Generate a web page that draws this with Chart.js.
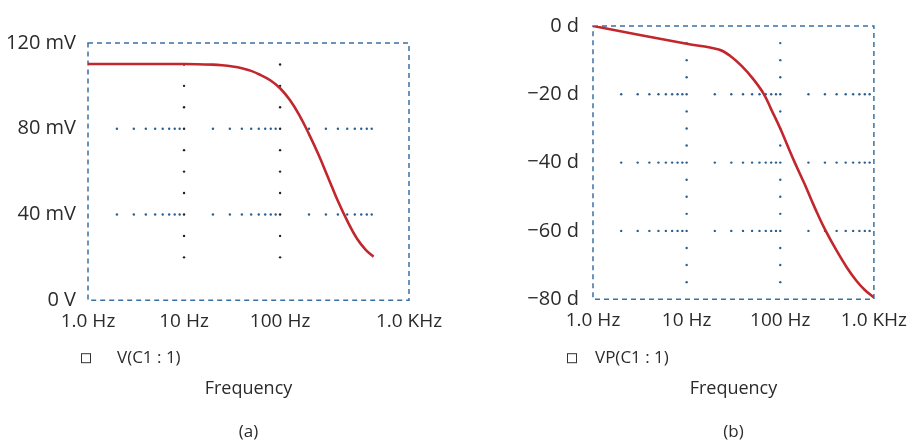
<!DOCTYPE html>
<html>
<head>
<meta charset="utf-8">
<script src="https://cdn.jsdelivr.net/npm/chart.js@4.4.1/dist/chart.umd.min.js"></script>
<style>
  html, body { margin: 0; padding: 0; background: #fff; overflow: hidden; }
  #wrap { position: relative; width: 917px; height: 444px; }
  canvas { position: absolute; top: 0; }
  #chartA { left: 0; }
  #chartB { left: 458px; }
</style>
</head>
<body>
<div id="wrap">
  <canvas id="chartA" width="458" height="444"></canvas>
  <canvas id="chartB" width="459" height="444"></canvas>
</div>
<script>
// (a) V(C1:1) magnitude vs frequency
var freqA = [1, 10, 20, 25, 32, 40, 50, 63, 79, 100, 126, 158, 200, 251, 316, 398, 501, 631, 780, 940];
var voltsA = [110.2, 110.2, 109.9, 109.6, 109, 108.2, 107, 105, 102.6, 98.9, 93.5, 86.5, 77.5, 68, 57.3, 46.5, 37, 28.8, 23.5, 20.3];
var xTicksA = [1, 10, 100, 2200];
var xLabelsA = ['1.0 Hz', '10 Hz', '100 Hz', '1.0 KHz'];
var yTicksA = [0, 40, 80, 120];
var yLabelsA = ['0 V', '40 mV', '80 mV', '120 mV'];

// (b) VP(C1:1) phase vs frequency
var freqB = [1, 10, 22, 29, 40, 51, 67, 80, 100, 125, 143, 180, 214, 250, 306, 400, 514, 650, 800, 1000];
var phaseB = [0, -5.2, -6.9, -8.7, -12.1, -15.4, -20, -24.4, -30, -36.3, -40, -46, -50.8, -55, -60, -65.8, -70.7, -74.6, -77.3, -79.5];
var xTicksB = [1, 10, 100, 1000];
var xLabelsB = ['1.0 Hz', '10 Hz', '100 Hz', '1.0 KHz'];
var yTicksB = [-80, -60, -40, -20, 0];
var yLabelsB = ['\u221280 d', '\u221260 d', '\u221240 d', '\u221220 d', '0 d'];

Chart.defaults.font.family = "'Open Sans', sans-serif";
Chart.defaults.color = '#2b2b2b';

function dot(ctx, x, y) {
    ctx.beginPath();
    ctx.arc(x, y, 1.2, 0, Math.PI * 2);
    ctx.fill();
}

// dotted grid + dashed frame, drawn under the curve
var gridDots = {
    id: 'gridDots',
    beforeDatasetsDraw: function (chart, args, opts) {
        var ctx = chart.ctx;
        var a = chart.chartArea;
        var xs = chart.scales.x;
        var ys = chart.scales.y;
        ctx.save();
        ctx.fillStyle = opts.rowColor;
        opts.rows.forEach(function (v) {
            var py = ys.getPixelForValue(v);
            opts.decades.forEach(function (d) {
                for (var m = 2; m <= 9; m++) {
                    dot(ctx, xs.getPixelForValue(m * d), py);
                }
            });
        });
        ctx.fillStyle = opts.colColor;
        opts.cols.forEach(function (f) {
            var px = xs.getPixelForValue(f);
            for (var v = opts.colFrom; v <= opts.colTo + 0.001; v += opts.colStep) {
                dot(ctx, px, ys.getPixelForValue(v));
            }
        });
        ctx.setLineDash([5, 4]);
        ctx.strokeStyle = opts.frameColor;
        ctx.lineWidth = 1.5;
        ctx.strokeRect(a.left, a.top, a.right - a.left, a.bottom - a.top);
        ctx.restore();
    }
};

// little probe legend under the tick labels
var probeLegend = {
    id: 'probeLegend',
    afterDraw: function (chart, args, opts) {
        var ctx = chart.ctx;
        var a = chart.chartArea;
        var y = a.bottom + opts.dy;
        ctx.save();
        ctx.strokeStyle = '#333';
        ctx.lineWidth = 1;
        ctx.strokeRect(a.left + opts.boxX + 0.5, y - 4.5, 9, 9);
        ctx.fillStyle = '#2b2b2b';
        ctx.font = "17px 'Open Sans', sans-serif";
        ctx.textBaseline = 'middle';
        ctx.fillText(chart.data.datasets[0].label, a.left + opts.textX, y);
        ctx.restore();
    }
};

function makeChart(id, cfg) {
    return new Chart(document.getElementById(id), {
        type: 'line',
        data: {
            datasets: [{
                label: cfg.label,
                data: cfg.freq.map(function (f, i) { return { x: f, y: cfg.values[i] }; }),
                borderColor: '#c1272d',
                borderWidth: 2.6,
                pointRadius: 0,
                tension: 0.4,
                fill: false
            }]
        },
        plugins: [gridDots, probeLegend],
        options: {
            responsive: false,
            animation: false,
            layout: { padding: { left: 0, right: cfg.padRight, top: cfg.top, bottom: 0 } },
            plugins: {
                legend: { display: false },
                tooltip: { enabled: false },
                title: {
                    display: true,
                    fullSize: false,
                    text: cfg.caption,
                    position: 'bottom',
                    font: { size: 17, weight: 'normal' },
                    padding: { top: 0, bottom: 2 }
                },
                gridDots: {
                    rows: cfg.rows,
                    decades: [1, 10, 100],
                    cols: [10, 100],
                    colFrom: cfg.colFrom,
                    colTo: cfg.colTo,
                    colStep: cfg.colStep,
                    rowColor: '#2a5f90',
                    colColor: cfg.colColor,
                    frameColor: '#3a70a3'
                },
                probeLegend: cfg.legendPos
            },
            scales: {
                x: {
                    type: 'logarithmic',
                    min: cfg.xTicks[0],
                    max: cfg.xTicks[cfg.xTicks.length - 1],
                    afterBuildTicks: function (scale) {
                        scale.ticks = cfg.xTicks.map(function (v) { return { value: v }; });
                    },
                    afterFit: function (scale) { scale.height = cfg.xHeight; },
                    grid: { display: false, drawTicks: false },
                    border: { display: false },
                    ticks: {
                        autoSkip: false,
                        maxRotation: 0,
                        padding: 10,
                        font: { size: 19 },
                        callback: function (v, i) { return cfg.xLabels[i]; }
                    },
                    title: {
                        display: true,
                        text: 'Frequency',
                        font: { size: 18 },
                        padding: { top: 0, bottom: 22 }
                    }
                },
                y: {
                    type: 'linear',
                    min: cfg.yTicks[0],
                    max: cfg.yTicks[cfg.yTicks.length - 1],
                    afterBuildTicks: function (scale) {
                        scale.ticks = cfg.yTicks.map(function (v) { return { value: v }; });
                    },
                    afterFit: function (scale) { scale.width = cfg.yWidth; },
                    grid: { display: false, drawTicks: false },
                    border: { display: false },
                    ticks: {
                        padding: cfg.yPad,
                        font: { size: 20 },
                        callback: function (v) { return cfg.yLabels[cfg.yTicks.indexOf(v)]; }
                    }
                }
            }
        }
    });
}

makeChart('chartA', {
    label: 'V(C1 : 1)',
    caption: '(a)',
    freq: freqA, values: voltsA,
    xTicks: xTicksA, xLabels: xLabelsA,
    yTicks: yTicksA, yLabels: yLabelsA,
    rows: [40, 80],
    colFrom: 20, colTo: 110, colStep: 10, colColor: '#222',
    padRight: 49, top: 43, yWidth: 88, yPad: 12, xHeight: 121.4,
    legendPos: { boxX: -7, textX: 29, dy: 58 }
});

makeChart('chartB', {
    label: 'VP(C1 : 1)',
    caption: '(b)',
    freq: freqB, values: phaseB,
    xTicks: xTicksB, xLabels: xLabelsB,
    yTicks: yTicksB, yLabels: yLabelsB,
    rows: [-20, -40, -60],
    colFrom: -75, colTo: -5, colStep: 5, colColor: '#2a5f90',
    padRight: 36, top: 17.5, yWidth: 135, yPad: 14, xHeight: 122.4,
    legendPos: { boxX: -26, textX: 2, dy: 59 }
});
</script>
</body>
</html>
